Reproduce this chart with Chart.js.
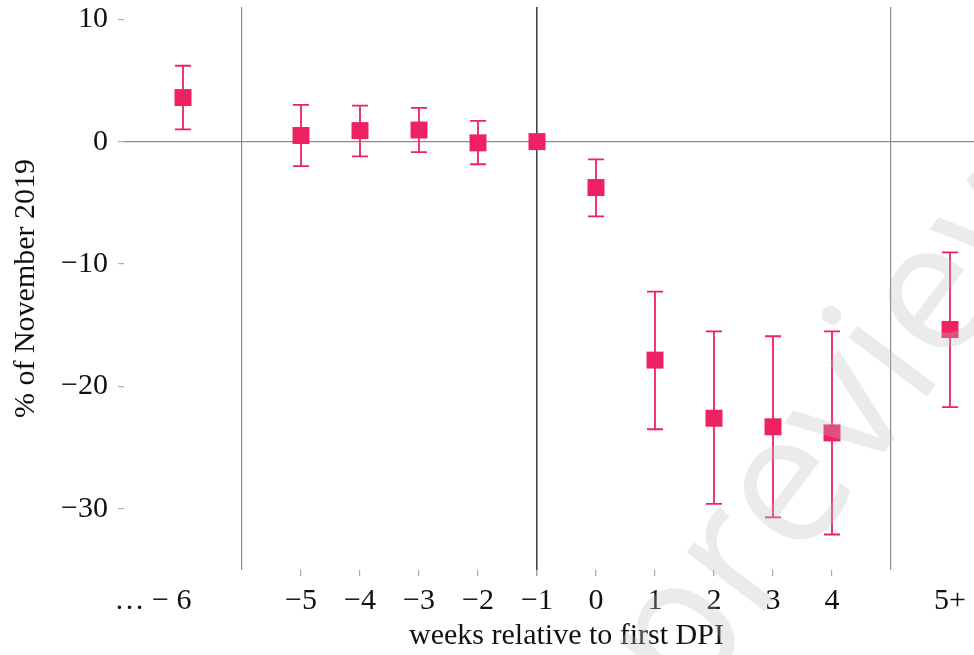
<!DOCTYPE html>
<html>
<head>
<meta charset="utf-8">
<script src="https://cdn.jsdelivr.net/npm/chart.js@4/dist/chart.umd.min.js"></script>
<style>
  html, body { margin: 0; padding: 0; background: #fff; overflow: hidden; }
  #wrap { width: 1009px; height: 655px; }
</style>
</head>
<body>
<div id="wrap"><canvas id="dpicanvas" width="1009" height="655"></canvas></div>
<script>
// weeks relative to first DPI (position on the axis; -7 is "... -6", 6 is "5+")
var weeks = [-7, -5, -4, -3, -2, -1, 0, 1, 2, 3, 4, 6];
var estimate = [3.6, 0.5, 0.9, 0.95, -0.1, 0, -3.75, -17.85, -22.6, -23.3, -23.8, -15.35];
var upperCI = [6.2, 3.0, 2.95, 2.75, 1.7, null, -1.45, -12.25, -15.5, -15.9, -15.5, -9.05];
var lowerCI = [1.0, -2.0, -1.2, -0.85, -1.85, null, -6.1, -23.5, -29.6, -30.7, -32.1, -21.7];
var xTickLabels = {'-7': '\u2026 \u2212 6\u2003\u2003', '-5': '\u22125', '-4': '\u22124', '-3': '\u22123', '-2': '\u22122',
	'-1': '\u22121', '0': '0', '1': '1', '2': '2', '3': '3', '4': '4', '6': '5+'};
var yTicks = [10, 0, -10, -20, -30];

var pink = 'rgb(238, 34, 98)';
var serif = "'Liberation Serif', 'DejaVu Serif', serif";

var points = [];
for (var i = 0; i < weeks.length; i++) {
	points.push({x: weeks[i], y: estimate[i]});
}

var errorBars = {
	id: 'errorBars',
	beforeDatasetsDraw: function(chart) {
		var ctx = chart.ctx, xs = chart.scales.x, ys = chart.scales.y;
		ctx.save();
		ctx.strokeStyle = pink;
		ctx.lineWidth = 1.8;
		for (var i = 0; i < weeks.length; i++) {
			if (upperCI[i] == null) continue;
			var px = xs.getPixelForValue(weeks[i]);
			var top = ys.getPixelForValue(upperCI[i]);
			var bot = ys.getPixelForValue(lowerCI[i]);
			ctx.beginPath();
			ctx.moveTo(px, top); ctx.lineTo(px, bot);
			ctx.moveTo(px - 8, top); ctx.lineTo(px + 8, top);
			ctx.moveTo(px - 8, bot); ctx.lineTo(px + 8, bot);
			ctx.stroke();
		}
		ctx.restore();
	}
};

var watermark = {
	id: 'watermark',
	afterDraw: function(chart) {
		var ctx = chart.ctx;
		ctx.save();
		ctx.translate(890, 445);
		ctx.rotate(-53 * Math.PI / 180);
		ctx.font = "183px 'Open Sans', sans-serif";
		ctx.fillStyle = 'rgba(188, 188, 188, 0.3)';
		ctx.textAlign = 'center';
		ctx.textBaseline = 'alphabetic';
		ctx.fillText('preview', 0, 0);
		ctx.restore();
	}
};

var ctx = document.getElementById("dpicanvas").getContext("2d");
window.myChart = new Chart(ctx, {
	type: 'scatter',
	data: {
		datasets: [
			{
				label: 'estimate',
				data: points,
				backgroundColor: pink,
				borderColor: pink,
				borderWidth: 0,
				pointStyle: 'rect',
				pointRadius: 12,
				pointHoverRadius: 12
			}
		]
	},
	options: {
		responsive: false,
		animation: false,
		events: [],
		layout: { autoPadding: false, padding: { top: 7, right: 0, left: 0, bottom: 0 } },
		plugins: {
			legend: { display: false },
			tooltip: { enabled: false }
		},
		scales: {
			x: {
				type: 'linear',
				min: -8,
				max: 7,
				border: { display: false },
				afterBuildTicks: function(scale) {
					scale.ticks = [-7, -6, -5, -4, -3, -2, -1, 0, 1, 2, 3, 4, 5, 6].map(function(v) { return {value: v}; });
				},
				afterFit: function(scale) {
					scale.height = 85;
					scale.paddingLeft = 0;
					scale.paddingRight = 0;
				},
				grid: {
					drawTicks: true,
					tickLength: 6,
					color: function(c) {
						var v = c.tick && c.tick.value;
						if (v === -1) return '#444';
						if (v === -6 || v === 5) return '#8c8c8c';
						return 'rgba(0,0,0,0)';
					},
					lineWidth: function(c) { return (c.tick && c.tick.value === -1) ? 1.6 : 1.2; },
					tickColor: function(c) {
						var v = c.tick && c.tick.value;
						return (v >= -5 && v <= 4) ? '#a8a8a8' : 'rgba(0,0,0,0)';
					}
				},
				ticks: {
					autoSkip: false,
					maxRotation: 0,
					padding: 7,
					color: '#111',
					font: { family: serif, size: 30 },
					callback: function(v) { return xTickLabels[String(v)] || ''; }
				},
				title: {
					display: true,
					text: 'weeks relative to first DPI',
					color: '#111',
					font: { family: serif, size: 30 },
					padding: { top: 0, bottom: 1 }
				}
			},
			y: {
				min: -35,
				max: 11,
				border: { display: false },
				afterBuildTicks: function(scale) {
					scale.ticks = yTicks.map(function(v) { return {value: v}; });
				},
				afterFit: function(scale) {
					scale.width = 124;
					scale.paddingTop = 0;
					scale.paddingBottom = 0;
				},
				grid: {
					tickLength: 6,
					color: function(c) { return (c.tick && c.tick.value === 0) ? '#8c8c8c' : 'rgba(0,0,0,0)'; },
					lineWidth: 1.2,
					tickColor: '#b0b0b0'
				},
				ticks: {
					padding: 10,
					color: '#111',
					font: { family: serif, size: 30 },
					callback: function(v) { return v < 0 ? '\u2212' + Math.abs(v) : String(v); }
				},
				title: {
					display: true,
					text: '% of November 2019',
					color: '#111',
					font: { family: serif, size: 30 },
					padding: { top: 8, bottom: 0 }
				}
			}
		}
	},
	plugins: [errorBars, watermark]
});
</script>
</body>
</html>
